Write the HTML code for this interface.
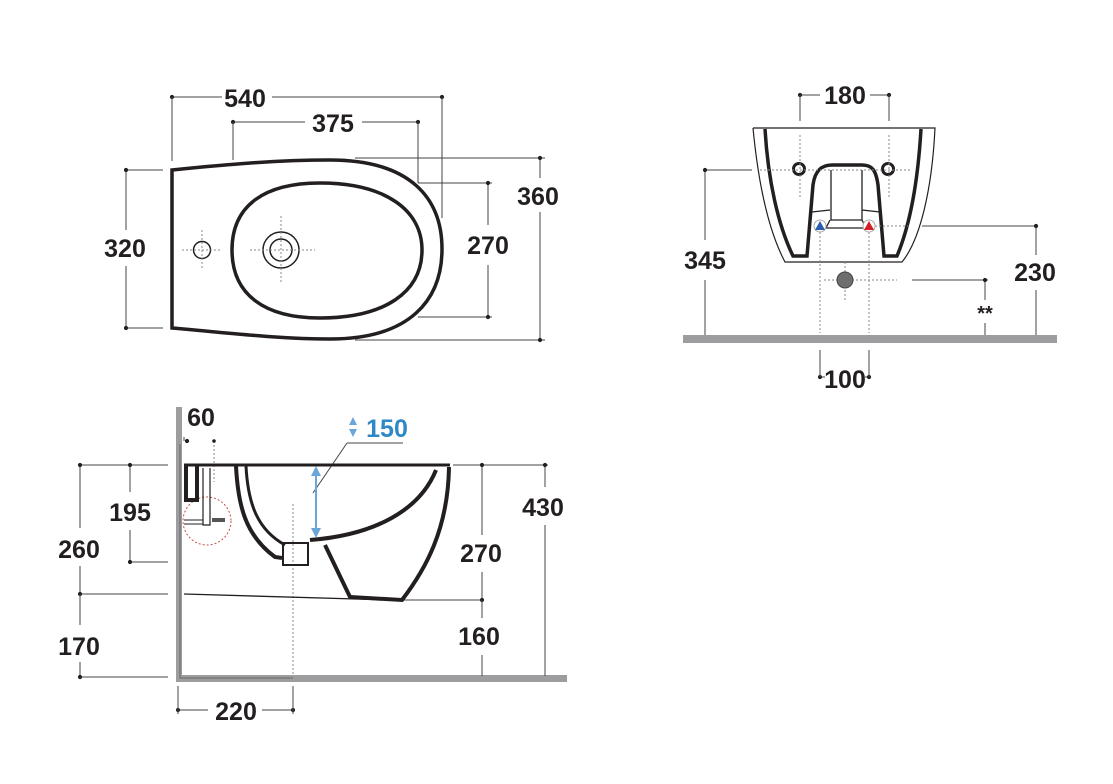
<!DOCTYPE html>
<html><head><style>
html,body{margin:0;padding:0;background:#fff;}
svg{display:block;}
text{font-family:"Liberation Sans",Arial,sans-serif;font-weight:bold;font-size:25px;fill:#231f20;text-anchor:middle;}
</style></head><body>
<svg width="1113" height="784" viewBox="0 0 1113 784" xmlns="http://www.w3.org/2000/svg">
<defs>
<marker id="d" viewBox="0 0 6 6" refX="3" refY="3" markerWidth="5" markerHeight="5"><circle cx="3" cy="3" r="2.5" fill="#231f20"/></marker>
</defs>
<g stroke="#444" stroke-width="1" fill="none">
<!-- TOP VIEW dims -->
<line x1="172" y1="97" x2="222" y2="97" marker-start="url(#d)"/><line x1="272" y1="97" x2="442" y2="97" marker-end="url(#d)"/>
<line x1="172" y1="97" x2="172" y2="161"/><line x1="442" y1="97" x2="442" y2="218"/>
<line x1="233" y1="122" x2="305" y2="122" marker-start="url(#d)"/><line x1="362" y1="122" x2="418" y2="122" marker-end="url(#d)"/>
<line x1="233" y1="122" x2="233" y2="160"/><line x1="418" y1="122" x2="418" y2="183"/>
<line x1="418" y1="183" x2="492" y2="183"/><line x1="418" y1="317" x2="492" y2="317"/>
<line x1="488" y1="183" x2="488" y2="225" marker-start="url(#d)"/><line x1="488" y1="265" x2="488" y2="317" marker-end="url(#d)"/>
<line x1="355" y1="158" x2="545" y2="158"/><line x1="355" y1="340" x2="545" y2="340"/>
<line x1="540" y1="158" x2="540" y2="178" marker-start="url(#d)"/><line x1="540" y1="212" x2="540" y2="340" marker-end="url(#d)"/>
<line x1="126" y1="170" x2="163" y2="170"/><line x1="126" y1="328" x2="163" y2="328"/>
<line x1="126" y1="170" x2="126" y2="230" marker-start="url(#d)"/><line x1="126" y1="266" x2="126" y2="328" marker-end="url(#d)"/>
</g>
<g stroke="#231f20" stroke-width="3.5" fill="none">
<path d="M172,170 L172,328 C230,333 280,339 330,339 C410,339 442,300 442,249 C442,198 410,160 330,160 C280,160 230,164 172,170 Z"/>
<path d="M232,250 C232,205 265,183 320,183 C385,183 422,210 422,250 C422,292 385,318 320,318 C265,318 232,295 232,250 Z"/>
</g>
<g stroke="#231f20" stroke-width="1.5" fill="none">
<circle cx="202" cy="250" r="8.5"/><circle cx="281" cy="250" r="18"/><circle cx="281" cy="250" r="11"/>
</g>
<g stroke="#888" stroke-width="1" stroke-dasharray="2,2" fill="none">
<line x1="182" y1="250" x2="222" y2="250"/><line x1="202" y1="230" x2="202" y2="270"/>
<line x1="250" y1="250" x2="315" y2="250"/><line x1="281" y1="216" x2="281" y2="284"/>
</g>
<text x="245" y="107">540</text><text x="333" y="132">375</text>
<text x="538" y="205">360</text><text x="488" y="254">270</text><text x="125" y="257">320</text>

<!-- REAR VIEW -->
<rect x="683" y="335" width="374" height="8" fill="#9d9d9f"/>
<g stroke="#444" stroke-width="1" fill="none">
<line x1="800" y1="95" x2="820" y2="95" marker-start="url(#d)"/><line x1="870" y1="95" x2="889" y2="95" marker-end="url(#d)"/>
<line x1="800" y1="95" x2="800" y2="121"/><line x1="889" y1="95" x2="889" y2="121"/>
<line x1="705" y1="170" x2="752" y2="170"/>
<line x1="705" y1="170" x2="705" y2="240" marker-start="url(#d)"/><line x1="705" y1="280" x2="705" y2="335"/>
<line x1="922" y1="226" x2="1038" y2="226"/>
<line x1="1036" y1="226" x2="1036" y2="255" marker-start="url(#d)"/><line x1="1036" y1="290" x2="1036" y2="335"/>
<line x1="912" y1="280" x2="988" y2="280"/>
<line x1="985" y1="280" x2="985" y2="300" marker-start="url(#d)"/><line x1="985" y1="323" x2="985" y2="335"/>
<line x1="820" y1="377" x2="825" y2="377" marker-start="url(#d)"/><line x1="865" y1="377" x2="869" y2="377" marker-end="url(#d)"/>
<line x1="820" y1="350" x2="820" y2="377"/><line x1="869" y1="350" x2="869" y2="377"/>
</g>
<g stroke="#231f20" fill="none">
<path d="M753,128 L935,128 C932,190 920,240 902,262 L785,262 C768,230 758,180 753,128" stroke-width="1.2"/>
<path d="M765,129 C768,180 778,225 793,256 L807,256 L813,185 C815,170 822,165 832,165 L862,165 C872,165 876,170 878,185 L884,256 L897,256 C910,225 918,180 921,129" stroke-width="3.5"/>
<path d="M831,170 L831,220 L862,220 L862,170 M812,212 L830,210 M862,210 L880,212 M830,220 L826,228 L866,228 L862,220" stroke-width="1.3"/>
<circle cx="799" cy="169" r="5.5" stroke-width="3"/><circle cx="888" cy="169" r="5.5" stroke-width="3"/>
</g>
<g stroke="#888" stroke-width="1" stroke-dasharray="2,2" fill="none">
<line x1="800" y1="135" x2="800" y2="197"/><line x1="889" y1="135" x2="889" y2="197"/>
<line x1="760" y1="170" x2="910" y2="170"/>
<line x1="820" y1="232" x2="820" y2="333"/><line x1="869" y1="232" x2="869" y2="333"/>
<line x1="875" y1="226" x2="908" y2="226"/>
<line x1="824" y1="280" x2="897" y2="280"/><line x1="845" y1="262" x2="845" y2="300"/>
</g>
<circle cx="820" cy="226" r="6" fill="#fff" stroke="#aaa"/><path d="M815,230 L820,221 L825,230 Z" fill="#2a5db0"/>
<circle cx="869" cy="226" r="6" fill="#fff" stroke="#aaa"/><path d="M864,230 L869,221 L874,230 Z" fill="#d32027"/>
<circle cx="845" cy="280" r="8" fill="#6d6e70" stroke="#444"/>
<text x="845" y="104">180</text><text x="705" y="269">345</text><text x="1035" y="281">230</text>
<text x="985" y="320" style="font-size:20px">**</text><text x="845" y="388">100</text>

<!-- SIDE VIEW -->
<rect x="176" y="407" width="6" height="275" fill="#9d9d9f"/>
<rect x="176" y="675" width="391" height="7" fill="#9d9d9f"/>
<path d="M180,444 L180,678 L293,678" stroke="#666" stroke-width="1" fill="none"/>
<g stroke="#444" stroke-width="1" fill="none">
<line x1="80" y1="465" x2="168" y2="465"/><line x1="80" y1="594" x2="168" y2="594"/><line x1="80" y1="677" x2="168" y2="677"/>
<line x1="130" y1="562" x2="168" y2="562"/>
<line x1="80" y1="465" x2="80" y2="528" marker-start="url(#d)"/><line x1="80" y1="566" x2="80" y2="594" marker-end="url(#d)"/>
<line x1="80" y1="594" x2="80" y2="625"/><line x1="80" y1="662" x2="80" y2="677" marker-end="url(#d)"/>
<line x1="130" y1="465" x2="130" y2="492" marker-start="url(#d)"/><line x1="130" y1="530" x2="130" y2="562" marker-end="url(#d)"/>
<line x1="453" y1="465" x2="548" y2="465"/><line x1="398" y1="600" x2="480" y2="600"/>
<line x1="482" y1="465" x2="482" y2="535" marker-start="url(#d)"/><line x1="482" y1="572" x2="482" y2="600" marker-end="url(#d)"/>
<line x1="482" y1="600" x2="482" y2="618"/><line x1="482" y1="655" x2="482" y2="676"/>
<line x1="545" y1="465" x2="545" y2="487" marker-start="url(#d)"/><line x1="545" y1="525" x2="545" y2="676"/>
<line x1="178" y1="710" x2="208" y2="710" marker-start="url(#d)"/><line x1="262" y1="710" x2="293" y2="710" marker-end="url(#d)"/>
<line x1="178" y1="686" x2="178" y2="714"/><line x1="293" y1="686" x2="293" y2="714"/>
<line x1="184" y1="441" x2="184" y2="437"/>
<line x1="187" y1="441" x2="187" y2="441" marker-start="url(#d)"/>
<line x1="313" y1="493" x2="347" y2="443"/><line x1="347" y1="443" x2="403" y2="443"/>
</g>
<g stroke="#888" stroke-width="1" stroke-dasharray="2,2" fill="none">
<line x1="214" y1="441" x2="214" y2="482"/><line x1="293" y1="504" x2="293" y2="676"/>
</g>
<circle cx="214" cy="441" r="1.8" fill="#231f20"/>
<circle cx="207" cy="521" r="24" stroke="#c0504d" stroke-width="1" stroke-dasharray="2,2" fill="none"/>
<g stroke="#231f20" fill="none">
<path d="M184,465 L450,465" stroke-width="3"/>
<path d="M184,594 L390,600" stroke-width="1.3"/>
<path d="M186,466 L186,500 L197,500 L197,466" stroke-width="4"/>
<path d="M203,468 L203,525 L210,525 L210,468" stroke-width="1.2"/>
<path d="M184,520 L203,520 M184,524 L203,524" stroke-width="1"/>
<path d="M236,466 C238,505 245,535 275,557 L282,558" stroke-width="4"/>
<path d="M246,466 C248,505 258,530 285,545" stroke-width="3"/>
<path d="M449,467 C448,530 425,570 402,600 L350,597 L325,545" stroke-width="4"/>
<path d="M436,470 C420,510 375,535 310,540" stroke-width="4"/>
<rect x="283" y="543" width="25" height="22" stroke-width="2"/>
</g>
<path d="M212,518 L225,518 L225,522 L212,522 Z" fill="#555"/>
<line x1="316" y1="470" x2="316" y2="534" stroke="#6aa6d8" stroke-width="2"/>
<path d="M311,476 L316,466 L321,476 Z M311,528 L316,538 L321,528 Z" fill="#6aa6d8"/>
<path d="M349,425 L353,417 L357,425 Z M349,429 L353,437 L357,429 Z" fill="#6aa6d8"/>
<text x="201" y="426">60</text>
<text x="387" y="437" style="fill:#2f88c6">150</text>
<text x="130" y="521">195</text><text x="79" y="558">260</text><text x="79" y="655">170</text>
<text x="481" y="562">270</text><text x="479" y="645">160</text><text x="543" y="516">430</text>
<text x="236" y="720">220</text>
</svg>
</body></html>
